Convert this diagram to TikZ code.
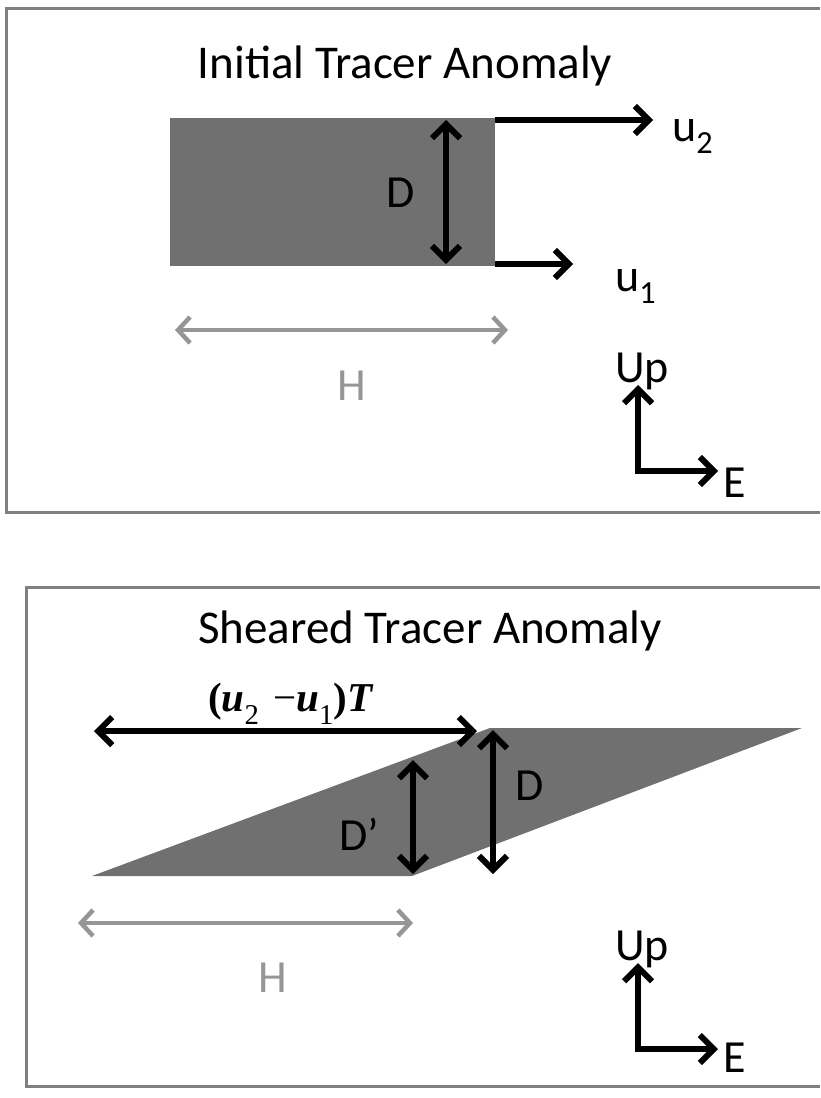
\documentclass[tikz,border=0pt]{standalone}
\usepackage{fontspec}
\setmainfont{Carlito}
\newfontfamily\eqfont{Liberation Serif}
\usetikzlibrary{arrows.meta,positioning}
\definecolor{framegray}{RGB}{128,128,128}
\definecolor{blobgray}{RGB}{112,112,112}
\definecolor{hgray}{RGB}{150,150,150}
\tikzset{
  panel/.style={draw=framegray,line width=3pt},
  blob/.style={fill=blobgray,draw=none},
  tip/.tip={Straight Barb[length=14pt,width=28pt,line width=6pt]},
  ar/.style={-tip,line width=6pt},
  dar/.style={tip-tip,line width=6pt},
  har/.style={{Straight Barb[length=12pt,width=26pt]}-{Straight Barb[length=12pt,width=26pt]},draw=hgray,line width=4.5pt},
  lbl/.style={inner sep=0pt,font=\fontsize{46}{50}\selectfont},
  ttl/.style={lbl,font=\fontsize{47}{52}\selectfont},
}

\begin{document}
\begin{tikzpicture}[x=1pt,y=-1pt]
  \useasboundingbox (0,0) rectangle (820,1098);

  % initial anomaly
  \draw[panel] (820,8) -- (6,8) -- (6,512) -- (820,512);
  \node[ttl,anchor=base] (title1) at (405,78) {Initial Tracer Anomaly};
  \node[blob,minimum width=325pt,minimum height=148pt,inner sep=0pt] (slab) at (332.5,192) {};
  \coordinate (dtop) at (446,120);
  \coordinate (dbot) at (446,264);
  \coordinate (u2tip) at (653,120);
  \coordinate (u1tip) at (573,264);
  \draw[dar] (dtop) -- (dbot);
  \draw[ar] (slab.north east |- u2tip) -- (u2tip);
  \draw[ar] (slab.south east |- u1tip) -- (u1tip);
  \node[lbl,anchor=base] (d1) at (401,207) {D};
  \node[lbl,anchor=base west] (u2) at (672,141) {u\textsubscript{2}};
  \node[lbl,anchor=base west] (u1) at (615,291) {u\textsubscript{1}};
  \coordinate (hl1) at (175,330);
  \coordinate (hr1) at (508,330);
  \draw[har] (hl1) -- (hr1);
  \node[lbl,anchor=base,text=hgray] (h1) at (352,400) {H};
  \coordinate (up1) at (638,385);
  \coordinate (o1) at (638,471);
  \coordinate (e1) at (718,471);
  \draw[dar,line join=miter] (up1) -- (o1) -- (e1);
  \node[lbl,anchor=base west] (upl1) at (615,382) {Up};
  \node[lbl,anchor=base west] (el1) at (723,497) {E};

  % sheared anomaly
  \draw[panel] (820,587) -- (26,587) -- (26,1086) -- (820,1086);
  \node[ttl,anchor=base] (title2) at (430,643) {Sheared Tracer Anomaly};
  \coordinate (bl) at (92,876);
  \coordinate (br) at (412,876);
  \coordinate (tr) at (802,728);
  \coordinate (tl) at (490,728);
  \fill[blobgray] (bl) -- (br) -- (tr) -- (tl) -- cycle;
  \coordinate (sl) at (94,731);
  \coordinate (sr) at (477,731);
  \draw[dar] (sl) -- (sr);
  \node[anchor=base,inner sep=0pt,font=\eqfont\fontsize{41}{44}\selectfont] (shift) at (291,711)
    {\bfseries(\textit{u}\raisebox{-3pt}{\textsubscript{\mdseries 2}}\,\,\mdseries−\textit{\bfseries u}\raisebox{-3pt}{\textsubscript{\mdseries 1}}\bfseries)\textit{T}};
  \coordinate (dptop) at (413,760);
  \coordinate (dpbot) at (413,874);
  \draw[dar] (dptop) -- (dpbot);
  \coordinate (d2top) at (493,730);
  \coordinate (d2bot) at (493,874);
  \draw[dar] (d2top) -- (d2bot);
  \node[lbl,anchor=base west] (d2) at (515,800) {D};
  \node[lbl,anchor=base west] (dp) at (339,850) {D’};
  \coordinate (hl2) at (78,923);
  \coordinate (hr2) at (413,923);
  \draw[har] (hl2) -- (hr2);
  \node[lbl,anchor=base,text=hgray] (h2) at (273,992) {H};
  \coordinate (up2) at (638,963);
  \coordinate (o2) at (638,1049);
  \coordinate (e2) at (718,1049);
  \draw[dar,line join=miter] (up2) -- (o2) -- (e2);
  \node[lbl,anchor=base west] (upl2) at (615,960) {Up};
  \node[lbl,anchor=base west] (el2) at (723,1072) {E};
\end{tikzpicture}
\end{document}
